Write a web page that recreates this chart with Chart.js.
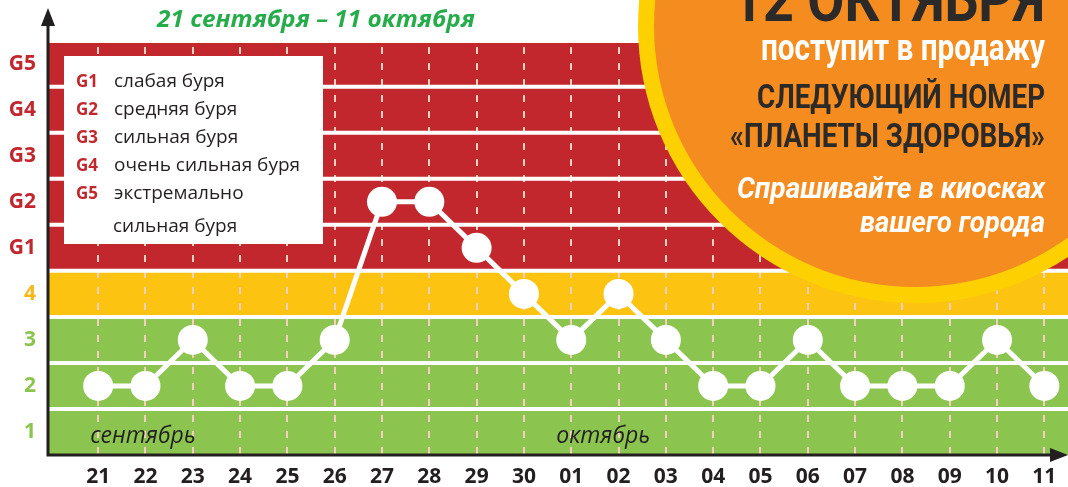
<!DOCTYPE html>
<html>
<head>
<meta charset="utf-8">
<script src="https://cdn.jsdelivr.net/npm/chart.js@4.4.0/dist/chart.umd.js"></script>
<style>
  body { margin: 0; background: #fff; }
  #wrap { width: 1068px; height: 487px; position: relative; }
</style>
</head>
<body>
<div id="wrap"><canvas id="stormChart"></canvas></div>
<script>
// Data
const days = ['21', '22', '23', '24', '25', '26', '27', '28', '29', '30', '01',
              '02', '03', '04', '05', '06', '07', '08', '09', '10', '11'];
const kpLevel = [2, 2, 3, 2, 2, 3, 6, 6, 5, 4, 3, 4, 3, 2, 2, 3, 2, 2, 2, 3, 2];
const levelLabels = ['1', '2', '3', '4', 'G1', 'G2', 'G3', 'G4', 'G5'];
const stormCodes = ['G1', 'G2', 'G3', 'G4', 'G5'];
const stormNames = ['слабая буря', 'средняя буря', 'сильная буря', 'очень сильная буря', 'экстремально'];
const stormNameExtra = 'сильная буря';
const periodTitle = '21 сентября – 11 октября';
const monthNames = ['сентябрь', 'октябрь'];
const promoLines = ['12 ОКТЯБРЯ', 'поступит в продажу', 'СЛЕДУЮЩИЙ НОМЕР',
                    '«ПЛАНЕТЫ ЗДОРОВЬЯ»', 'Спрашивайте в киосках', 'вашего города'];

// Colors
const RED = '#c1272d';
const YELLOW = '#fcc410';
const GREEN = '#8cc450';
const DARK = '#231f20';

function levelColor(v) {
    if (v >= 5) return RED;
    if (v === 4) return '#f7b918';
    return GREEN;
}

// draw text stretched/compressed to an exact width, right edge at x
function fitText(ctx, text, xRight, baseline, width, font, color) {
    ctx.save();
    ctx.font = font;
    ctx.fillStyle = color;
    ctx.textAlign = 'left';
    ctx.textBaseline = 'alphabetic';
    const w = ctx.measureText(text).width;
    ctx.translate(xRight - width, baseline);
    ctx.scale(width / w, 1);
    ctx.fillText(text, 0, 0);
    ctx.restore();
}

const backdrop = {
    id: 'backdrop',
    beforeDatasetsDraw(chart) {
        const { ctx, chartArea: a, scales: { x, y } } = chart;
        ctx.save();
        // bands
        const top = a.top, y35 = y.getPixelForValue(3.5), y45 = y.getPixelForValue(4.5);
        ctx.fillStyle = RED;
        ctx.fillRect(a.left, top, a.right - a.left, y45 - top);
        ctx.fillStyle = YELLOW;
        ctx.fillRect(a.left, y45, a.right - a.left, y35 - y45);
        ctx.fillStyle = GREEN;
        ctx.fillRect(a.left, y35, a.right - a.left, a.bottom - y35);

        // dashed verticals
        ctx.strokeStyle = '#f6cfc0';
        ctx.lineWidth = 2;
        ctx.setLineDash([7, 9]);
        days.forEach((d, i) => {
            const px = Math.round(x.getPixelForValue(i));
            ctx.beginPath();
            ctx.moveTo(px, top + 4);
            ctx.lineTo(px, a.bottom);
            ctx.stroke();
        });
        ctx.setLineDash([]);

        // white separators
        ctx.strokeStyle = '#fff';
        ctx.lineWidth = 4;
        for (let v = 1.5; v < levelLabels.length; v++) {
            const py = y.getPixelForValue(v);
            ctx.beginPath();
            ctx.moveTo(a.left, py);
            ctx.lineTo(a.right, py);
            ctx.stroke();
        }

        // month names
        ctx.font = 'italic 23px "Open Sans"';
        ctx.fillStyle = DARK;
        ctx.textAlign = 'left';
        ctx.fillText(monthNames[0], x.getPixelForValue(0) - 8, 443);
        ctx.fillText(monthNames[1], x.getPixelForValue(10) - 15, 443);

        // legend box
        ctx.fillStyle = '#fff';
        ctx.fillRect(64, 56, 259, 188);
        stormCodes.forEach((code, i) => {
            const base = 87 + i * 28;
            ctx.font = 'bold 17px "Open Sans"';
            ctx.fillStyle = RED;
            ctx.fillText(code, 76, base);
            ctx.font = '19px "Open Sans"';
            ctx.fillStyle = DARK;
            ctx.fillText(stormNames[i], 114, base);
        });
        ctx.fillText(stormNameExtra, 113, 232);

        // period title
        fitText(ctx, periodTitle, 475, 27, 318, 'italic bold 24px "Open Sans"', '#27ac4b');
        ctx.restore();
    },
    afterDatasetsDraw(chart) {
        const { ctx, chartArea: a } = chart;
        ctx.save();
        // axes with arrows
        ctx.strokeStyle = DARK;
        ctx.fillStyle = DARK;
        ctx.lineWidth = 3;
        ctx.beginPath();
        ctx.moveTo(a.left, a.bottom + 1.5);
        ctx.lineTo(a.left, 20);
        ctx.moveTo(a.left - 1.5, a.bottom);
        ctx.lineTo(1056, a.bottom);
        ctx.stroke();
        ctx.beginPath();
        ctx.moveTo(a.left, 8);
        ctx.lineTo(a.left - 7, 26);
        ctx.lineTo(a.left + 7, 26);
        ctx.closePath();
        ctx.fill();
        ctx.beginPath();
        ctx.moveTo(1068, a.bottom);
        ctx.lineTo(1050, a.bottom - 7);
        ctx.lineTo(1050, a.bottom + 7);
        ctx.closePath();
        ctx.fill();

        // promo circle
        ctx.fillStyle = '#fdd002';
        ctx.beginPath();
        ctx.arc(915, 26, 277, 0, Math.PI * 2);
        ctx.fill();
        ctx.fillStyle = '#f58c20';
        ctx.beginPath();
        ctx.arc(915, 26, 261, 0, Math.PI * 2);
        ctx.fill();

        fitText(ctx, promoLines[0], 1045, 21, 313, 'bold 62px Roboto', '#2b2a29');
        fitText(ctx, promoLines[1], 1045, 60, 284, 'bold 36px Roboto', '#fff');
        fitText(ctx, promoLines[2], 1045, 108, 288, 'bold 34px Roboto', '#2b2a29');
        fitText(ctx, promoLines[3], 1045, 147, 315, 'bold 34px Roboto', '#2b2a29');
        fitText(ctx, promoLines[4], 1045, 198, 308, 'italic bold 30px Roboto', '#fff');
        fitText(ctx, promoLines[5], 1045, 232, 185, 'italic bold 30px Roboto', '#fff');
        ctx.restore();
    }
};

const ctx = document.getElementById('stormChart');
new Chart(ctx, {
    type: 'line',
    data: {
        datasets: [{
            data: kpLevel.map((v, i) => ({ x: i, y: v })),
            borderColor: '#fff',
            borderWidth: 5,
            pointRadius: 15,
            pointBackgroundColor: '#fff',
            pointBorderWidth: 0,
            tension: 0,
            clip: false
        }]
    },
    options: {
        responsive: true,
        maintainAspectRatio: false,
        animation: false,
        layout: { autoPadding: false, padding: { top: 43, right: 0, bottom: 0, left: 0 } },
        plugins: { legend: { display: false }, tooltip: { enabled: false } },
        scales: {
            x: {
                type: 'linear',
                min: -1.06,
                max: 20.5,
                afterBuildTicks: (s) => { s.ticks = days.map((d, i) => ({ value: i })); },
                afterFit: (s) => { s.height = 32; },
                grid: { display: false, drawTicks: false },
                border: { display: false },
                ticks: {
                    autoSkip: false,
                    maxRotation: 0,
                    padding: 9,
                    color: DARK,
                    font: { family: 'Open Sans', size: 21, weight: 'bold' },
                    callback: (v) => days[v]
                }
            },
            y: {
                type: 'linear',
                min: 0.5,
                max: 9.45,
                afterBuildTicks: (s) => { s.ticks = levelLabels.map((l, i) => ({ value: i + 1 })); },
                afterFit: (s) => { s.width = 48; },
                grid: { display: false, drawTicks: false },
                border: { display: false },
                ticks: {
                    padding: 12,
                    color: (c) => levelColor(c.tick.value),
                    font: { family: 'Open Sans', size: 21, weight: 'bold' },
                    callback: (v) => levelLabels[v - 1]
                }
            }
        }
    },
    plugins: [backdrop]
});
</script>
</body>
</html>
